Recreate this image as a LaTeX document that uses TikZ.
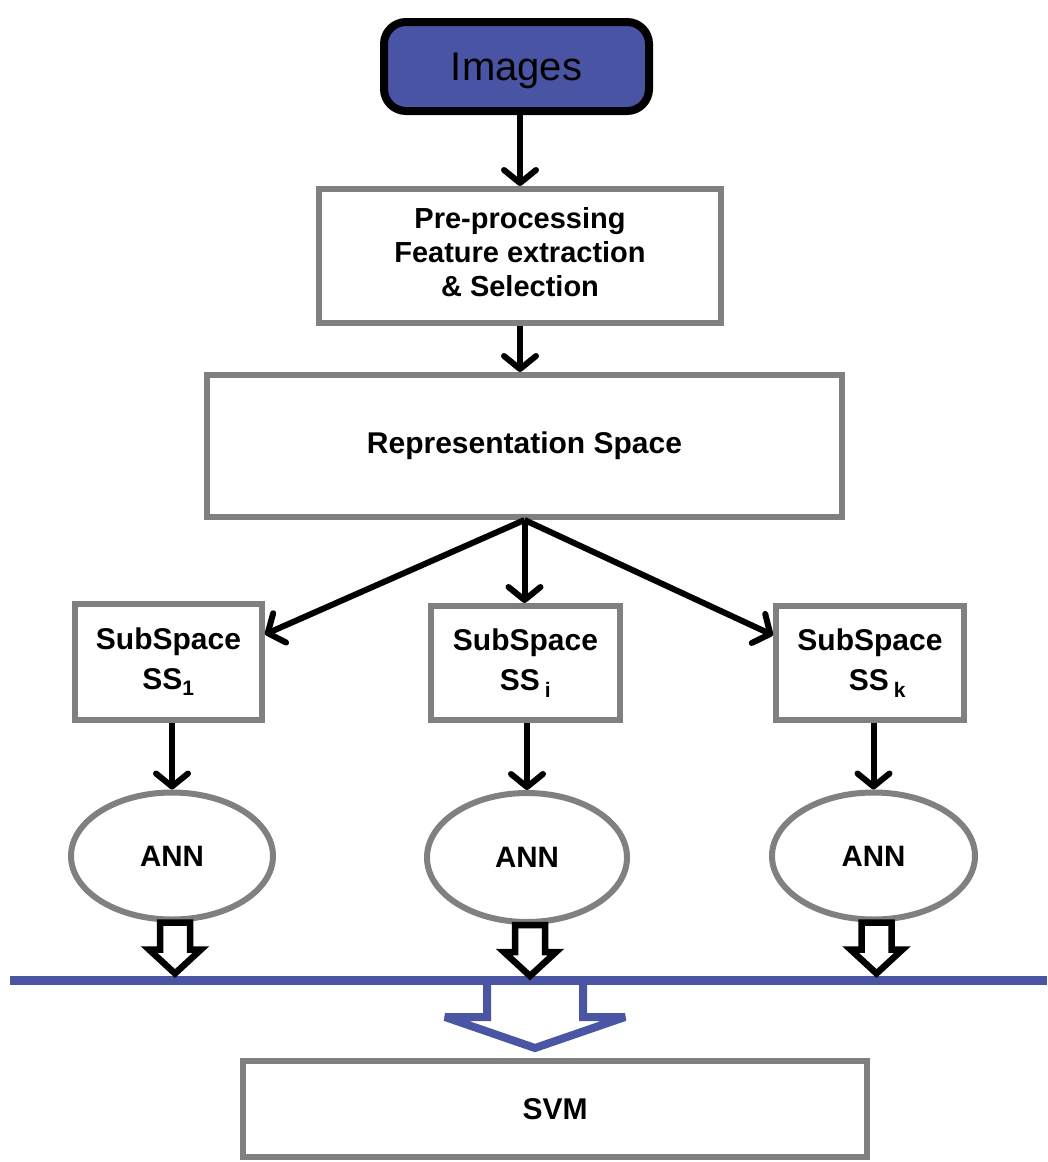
\documentclass[tikz,border=0pt]{standalone}
\usepackage{fontspec}
\setmainfont{Liberation Sans}
\usetikzlibrary{arrows.meta,shapes.geometric,calc}
\definecolor{boxgray}{HTML}{808080}
\definecolor{imgblue}{HTML}{4A54A4}
\definecolor{busblue}{HTML}{4A55A3}
\begin{document}
\begin{tikzpicture}[x=1pt,y=-1pt,
  box/.style={draw=boxgray,line width=6pt,fill=white,inner sep=0pt,align=center,
    font=\fontsize{30}{34}\selectfont\bfseries},
  ssbox/.style={box,font=\fontsize{30}{40}\selectfont\bfseries},
  annode/.style={ellipse,draw=boxgray,line width=6pt,fill=white,inner sep=0pt,
    minimum width=202pt,minimum height=127pt,font=\fontsize{29.5}{34}\selectfont\bfseries},
  arr/.style={line width=6pt,black,-{Straight Barb[round,length=13pt,width=32pt]}},
  hollow/.style={draw=black,line width=6.5pt,fill=white,line join=miter},
  bigarrow/.style={draw=busblue,line width=8pt,fill=white,line join=miter,miter limit=2}
]
\useasboundingbox (0,0) rectangle (1047,1162);

% nodes
\node[draw=black,line width=8pt,fill=imgblue,rounded corners=22pt,inner sep=0pt,
  minimum width=265pt,minimum height=89pt,text depth=0pt,font=\fontsize{40}{40}\selectfont]
  (img) at (516.5,66.5) {Images};
\node[box,minimum width=402pt,minimum height=134pt,font=\fontsize{29}{34}\selectfont\bfseries]
  (pre) at (520,256) {\raisebox{9pt}{\begin{tabular}{@{}c@{}}Pre-processing\\Feature extraction\\\&~Selection\end{tabular}}};
\node[box,minimum width=635pt,minimum height=142pt] (rep) at (524.5,446)
  {Representation Space};
\node[ssbox,minimum width=187pt,minimum height=116pt] (ss1) at (168.5,662)
  {SubSpace\\SS\textsubscript{1}};
\node[ssbox,minimum width=189pt,minimum height=114pt] (ssi) at (525.5,663)
  {SubSpace\\SS\,\textsubscript{i}};
\node[ssbox,minimum width=188pt,minimum height=114pt] (ssk) at (870,663)
  {SubSpace\\\hspace{0.5em}SS\,\textsubscript{k}};
\node[annode] (ann1) at (172,856) {ANN};
\node[annode,minimum width=200pt,minimum height=129pt] (anni) at (527,857.5) {ANN};
\node[annode,minimum width=203pt] (annk) at (873.5,856) {ANN};
\node[box,minimum width=624pt,minimum height=96pt] (svm) at (555,1109) {SVM};

% connectors
\draw[arr] (img.south -| pre.north) -- (pre.north);
\draw[arr] (pre.south) -- (pre.south |- rep.north);
\draw[arr] (rep.south) -- (ss1.16);
\draw[arr] (rep.south) -- (rep.south |- ssi.north);
\draw[arr] (rep.south) -- (ssk.164);
\draw[arr] (ss1.south -| ann1.north) -- (ann1.north);
\draw[arr] (ssi.south -| anni.north) -- (anni.north);
\draw[arr] (ssk.south -| annk.north) -- (annk.north);

% bus and outlined arrows
\coordinate (busL) at (10,980);
\coordinate (busR) at (1047,980);
\coordinate (busM) at (535,980);
\draw[bigarrow] (busM) ++(-48,0) -- ++(0,37) -- ++(-42,0) -- ++(90,31)
  -- ++(90,-31) -- ++(-42,0) -- ++(0,-37);
\draw[busblue,line width=9pt] (busL) -- (busR);

\foreach \a/\dx in {ann1/3,anni/3,annk/3}{
  \draw[hollow] ($(\a.south)+(\dx,0)$) ++(-15,0) -- ++(0,27) -- ++(-11,0) -- ++(26,24)
    -- ++(26,-24) -- ++(-11,0) -- ++(0,-27) -- cycle;
}
\end{tikzpicture}
\end{document}
